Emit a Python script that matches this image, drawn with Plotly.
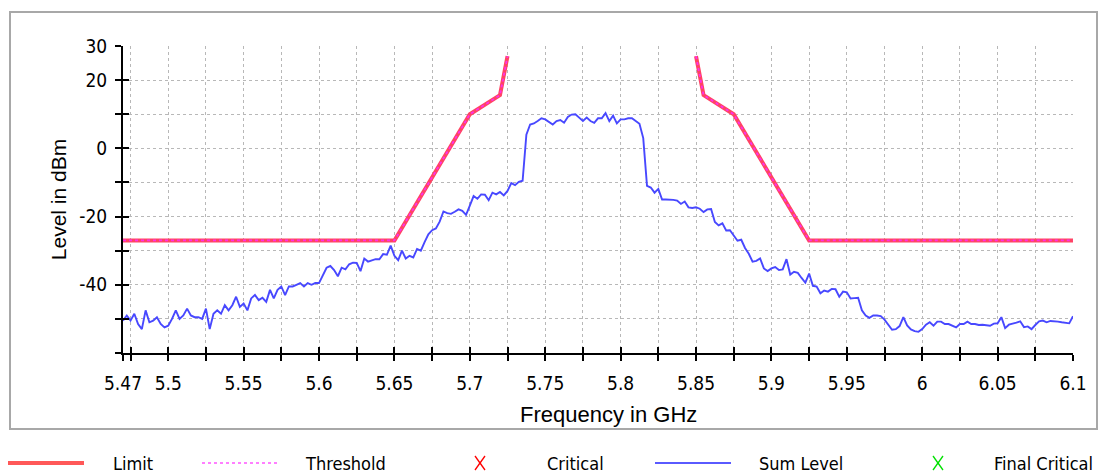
import plotly.graph_objects as go

# ---------------------------------------------------------------------------
# Measured spectrum (Sum Level), frequency in GHz, level in dBm
# ---------------------------------------------------------------------------
freq_ghz = [
    5.4700, 5.4725, 5.4750, 5.4775, 5.4800, 5.4825, 5.4850, 5.4875, 5.4900, 5.4925,
    5.4950, 5.4975, 5.5000, 5.5025, 5.5050, 5.5075, 5.5100, 5.5125, 5.5150, 5.5175,
    5.5200, 5.5225, 5.5250, 5.5275, 5.5300, 5.5325, 5.5350, 5.5375, 5.5400, 5.5425,
    5.5450, 5.5475, 5.5500, 5.5525, 5.5550, 5.5575, 5.5600, 5.5625, 5.5650, 5.5675,
    5.5700, 5.5725, 5.5750, 5.5775, 5.5800, 5.5825, 5.5850, 5.5875, 5.5900, 5.5925,
    5.5950, 5.5975, 5.6000, 5.6025, 5.6050, 5.6075, 5.6100, 5.6125, 5.6150, 5.6175,
    5.6200, 5.6225, 5.6250, 5.6275, 5.6300, 5.6325, 5.6350, 5.6375, 5.6400, 5.6425,
    5.6450, 5.6475, 5.6500, 5.6525, 5.6550, 5.6575, 5.6600, 5.6625, 5.6650, 5.6675,
    5.6700, 5.6725, 5.6750, 5.6775, 5.6800, 5.6825, 5.6850, 5.6875, 5.6900, 5.6925,
    5.6950, 5.6975, 5.7000, 5.7025, 5.7050, 5.7075, 5.7100, 5.7125, 5.7150, 5.7175,
    5.7200, 5.7225, 5.7250, 5.7275, 5.7300, 5.7325, 5.7350, 5.7375, 5.7400, 5.7425,
    5.7450, 5.7475, 5.7500, 5.7525, 5.7550, 5.7575, 5.7600, 5.7625, 5.7650, 5.7675,
    5.7700, 5.7725, 5.7750, 5.7775, 5.7800, 5.7825, 5.7850, 5.7875, 5.7900, 5.7925,
    5.7950, 5.7975, 5.8000, 5.8025, 5.8050, 5.8075, 5.8100, 5.8125, 5.8150, 5.8175,
    5.8200, 5.8225, 5.8250, 5.8275, 5.8300, 5.8325, 5.8350, 5.8375, 5.8400, 5.8425,
    5.8450, 5.8475, 5.8500, 5.8525, 5.8550, 5.8575, 5.8600, 5.8625, 5.8650, 5.8675,
    5.8700, 5.8725, 5.8750, 5.8775, 5.8800, 5.8825, 5.8850, 5.8875, 5.8900, 5.8925,
    5.8950, 5.8975, 5.9000, 5.9025, 5.9050, 5.9075, 5.9100, 5.9125, 5.9150, 5.9175,
    5.9200, 5.9225, 5.9250, 5.9275, 5.9300, 5.9325, 5.9350, 5.9375, 5.9400, 5.9425,
    5.9450, 5.9475, 5.9500, 5.9525, 5.9550, 5.9575, 5.9600, 5.9625, 5.9650, 5.9675,
    5.9700, 5.9725, 5.9750, 5.9775, 5.9800, 5.9825, 5.9850, 5.9875, 5.9900, 5.9925,
    5.9950, 5.9975, 6.0000, 6.0025, 6.0050, 6.0075, 6.0100, 6.0125, 6.0150, 6.0175,
    6.0200, 6.0225, 6.0250, 6.0275, 6.0300, 6.0325, 6.0350, 6.0375, 6.0400, 6.0425,
    6.0450, 6.0475, 6.0500, 6.0525, 6.0550, 6.0575, 6.0600, 6.0625, 6.0650, 6.0675,
    6.0700, 6.0725, 6.0750, 6.0775, 6.0800, 6.0825, 6.0850, 6.0875, 6.0900, 6.0925,
    6.0950, 6.0975, 6.1000,
]

sum_level_dbm = [
    -50.5, -49.0, -50.5, -48.5, -51.5, -53.0, -47.5, -51.0, -50.5, -49.5,
    -51.5, -52.5, -52.0, -50.0, -47.5, -50.0, -49.0, -47.0, -49.0, -49.5,
    -49.5, -50.0, -47.0, -53.0, -48.5, -47.5, -48.5, -46.0, -47.5, -46.0,
    -43.5, -46.5, -45.5, -47.5, -44.0, -43.0, -44.5, -43.8, -45.0, -41.5,
    -44.0, -41.5, -40.5, -43.0, -40.5, -40.5, -40.0, -39.5, -40.5, -39.5,
    -40.0, -39.5, -39.5, -37.0, -35.0, -34.5, -35.7, -37.5, -35.0, -35.5,
    -34.0, -33.5, -33.6, -36.0, -32.3, -33.2, -32.8, -32.5, -32.5, -31.0,
    -31.2, -28.5, -31.5, -32.8, -30.0, -32.3, -31.5, -32.0, -29.5, -30.0,
    -27.5, -25.2, -24.0, -23.5, -21.5, -18.5, -19.0, -19.2, -18.6, -17.9,
    -18.3, -19.5, -16.8, -14.0, -14.8, -13.5, -13.6, -15.2, -13.0, -13.5,
    -12.8, -13.8, -12.5, -10.2, -10.8, -9.8, -9.5, 4.0, 7.0, 7.3,
    8.0, 8.8, 8.5, 7.8, 7.0, 8.0, 8.3, 7.5, 9.2, 9.9,
    10.0, 9.0, 8.0, 9.0, 8.0, 7.5, 8.8, 8.8, 10.3, 8.0,
    9.6, 7.3, 8.5, 8.5, 8.8, 8.8, 8.0, 7.2, 3.0, -11.0,
    -11.5, -13.0, -11.9, -15.0, -15.0, -15.0, -15.1, -15.3, -16.3, -15.6,
    -17.3, -17.5, -17.3, -17.7, -18.7, -17.9, -17.8, -21.6, -22.6, -22.0,
    -24.1, -24.0, -25.5, -27.1, -26.8, -29.2, -30.9, -33.2, -33.0, -32.3,
    -35.2, -36.0, -35.2, -34.8, -35.7, -35.5, -32.5, -37.0, -36.2, -36.5,
    -38.0, -39.4, -36.7, -40.3, -40.5, -42.5, -41.7, -42.0, -41.2, -41.3,
    -43.5, -42.0, -42.2, -44.0, -43.9, -43.8, -47.5, -49.0, -49.7, -49.0,
    -49.0, -49.2, -50.2, -51.8, -53.2, -53.0, -52.1, -49.5, -51.9, -53.1,
    -53.6, -53.8, -53.0, -51.7, -51.0, -52.0, -50.8, -50.8, -51.5, -51.5,
    -52.0, -52.5, -51.5, -51.5, -50.8, -51.5, -51.5, -51.8, -51.7, -51.9,
    -52.0, -51.4, -51.3, -49.5, -52.7, -51.7, -51.5, -51.1, -50.7, -52.4,
    -52.2, -53.0, -51.8, -50.7, -50.5, -51.0, -50.6, -50.6, -50.8, -51.0,
    -51.2, -51.3, -49.2,
]

# Emission mask (limit) - two branches around the allowed band
limit_freq_ghz = [5.47, 5.65, 5.70, 5.72, 5.725, None, 5.85, 5.855, 5.875, 5.925, 6.10]
limit_dbm = [-27, -27, 10, 15.6, 27, None, 27, 15.6, 10, -27, -27]

# Threshold follows the limit mask
threshold_freq_ghz = limit_freq_ghz
threshold_dbm = limit_dbm

# No critical points in this sweep
critical_freq_ghz = []
critical_dbm = []
final_critical_freq_ghz = []
final_critical_dbm = []

# Axis ticks
x_tick_vals = [5.47, 5.475, 5.5, 5.525, 5.55, 5.575, 5.6, 5.625, 5.65, 5.675,
               5.7, 5.725, 5.75, 5.775, 5.8, 5.825, 5.85, 5.875, 5.9, 5.925,
               5.95, 5.975, 6.0, 6.025, 6.05, 6.075, 6.1]
x_tick_text = ["5.47", "", "5.5", "", "5.55", "", "5.6", "", "5.65", "",
               "5.7", "", "5.75", "", "5.8", "", "5.85", "", "5.9", "",
               "5.95", "", "6", "", "6.05", "", "6.1"]
y_tick_vals = [-60, -50, -40, -30, -20, -10, 0, 10, 20, 30]
y_tick_text = ["", "", "-40", "", "-20", "", "0", "", "20", "30"]

x_title = "Frequency in GHz"
y_title = "Level in dBm"
legend_labels = ["Limit", "Threshold", "Critical", "Sum Level", "Final Critical"]

# ---------------------------------------------------------------------------
W, H = 1099, 474
L, R, T, B = 123, 1073, 46, 353  # plot area in pixels


def px_x(px):
    return (px - L) / (R - L)


def px_y(py):
    return (B - py) / (B - T)


narrow = "Liberation Sans Narrow, Arial Narrow, DejaVu Sans Condensed, sans-serif"
tick_font = dict(family=narrow, size=19, color="#000000")
title_family = "Liberation Sans, Arial, sans-serif"

limit_color = "#ff4462"
threshold_color = "#ff30e8"
sum_color = "#4848ff"

fig = go.Figure()

fig.add_trace(go.Scatter(
    x=freq_ghz, y=sum_level_dbm, mode="lines", name="Sum Level",
    line=dict(color=sum_color, width=1.9), showlegend=False,
))
fig.add_trace(go.Scatter(
    x=limit_freq_ghz, y=limit_dbm, mode="lines", name="Limit",
    line=dict(color=limit_color, width=4), connectgaps=False, showlegend=False,
))
fig.add_trace(go.Scatter(
    x=threshold_freq_ghz, y=threshold_dbm, mode="lines", name="Threshold",
    line=dict(color=threshold_color, width=1.8, dash="dot"), connectgaps=False,
    showlegend=False,
))
fig.add_trace(go.Scatter(
    x=critical_freq_ghz, y=critical_dbm, mode="markers", name="Critical",
    marker=dict(symbol="x-thin", color="#ff0000", size=10, line=dict(width=1.5, color="#ff0000")),
    showlegend=False,
))
fig.add_trace(go.Scatter(
    x=final_critical_freq_ghz, y=final_critical_dbm, mode="markers", name="Final Critical",
    marker=dict(symbol="x-thin", color="#00dd00", size=10, line=dict(width=1.5, color="#00dd00")),
    showlegend=False,
))
# empty trace that carries the overlay axes drawing the inner half of the ticks
fig.add_trace(go.Scatter(x=[], y=[], xaxis="x2", yaxis="y2", showlegend=False,
                         hoverinfo="skip"))

common_axis = dict(
    showline=True, linecolor="#000000", linewidth=2,
    ticks="outside", ticklen=6, tickwidth=2, tickcolor="#000000",
    showgrid=True, gridcolor="#b8b8b8", gridwidth=1, griddash="dot",
    zeroline=False, tickfont=tick_font, tickmode="array",
)

fig.update_layout(
    width=W, height=H,
    margin=dict(l=L, r=W - R, t=T, b=H - B, autoexpand=False),
    paper_bgcolor="#ffffff", plot_bgcolor="#ffffff",
    xaxis=dict(
        range=[5.47, 6.1], tickvals=x_tick_vals, ticktext=x_tick_text,
        ticklabelstandoff=6,
        **common_axis,
    ),
    yaxis=dict(
        range=[-60, 30], tickvals=y_tick_vals, ticktext=y_tick_text,
        title=dict(text=y_title, font=dict(family=title_family, size=21, color="#000000"),
                   standoff=7),
        ticklabelstandoff=4,
        **common_axis,
    ),
    xaxis2=dict(
        overlaying="x", anchor="y", side="bottom", range=[5.47, 6.1],
        tickmode="array", tickvals=x_tick_vals, showticklabels=False,
        ticks="inside", ticklen=6, tickwidth=2, tickcolor="#000000",
        showgrid=False, zeroline=False, showline=False,
    ),
    yaxis2=dict(
        overlaying="y", anchor="x", side="left", range=[-60, 30],
        tickmode="array", tickvals=y_tick_vals, showticklabels=False,
        ticks="inside", ticklen=6, tickwidth=2, tickcolor="#000000",
        showgrid=False, zeroline=False, showline=False,
    ),
    hovermode=False,
)

# Outer frame around the chart
shapes = [dict(
    type="rect", xref="paper", yref="paper",
    x0=px_x(10), x1=px_x(1097), y0=px_y(429), y1=px_y(12),
    line=dict(color="#a8a8a8", width=2), fillcolor="rgba(0,0,0,0)", layer="below",
)]

# Frequency axis title, sitting slightly right of the plot centre
annotations = [dict(
    xref="paper", yref="paper", x=px_x(608), y=px_y(414),
    xanchor="center", yanchor="middle", text=x_title, showarrow=False,
    font=dict(family=title_family, size=22, color="#000000"),
)]

# Legend row below the frame: symbol kind, colour, symbol start px, label start px
legend_y = px_y(463)
legend_styles = [
    dict(kind="line", color="#ff5858", width=4, dash="solid", start=8, text=111),
    dict(kind="line", color="#ff55ff", width=1.5, dash="dot", start=202, text=303),
    dict(kind="x", color="#ff0000", start=440, text=545),
    dict(kind="line", color="#5a5aff", width=2, dash="solid", start=655, text=757),
    dict(kind="x", color="#00e000", start=898, text=992),
]
legend_font = dict(family=narrow, size=18, color="#000000")
for label, st in zip(legend_labels, legend_styles):
    s = st["start"]
    if st["kind"] == "line":
        shapes.append(dict(
            type="line", xref="paper", yref="paper",
            x0=px_x(s), x1=px_x(s + 76), y0=legend_y, y1=legend_y,
            line=dict(color=st["color"], width=st["width"], dash=st["dash"]),
        ))
    else:
        cx = s + 40
        for dy in (1, -1):
            shapes.append(dict(
                type="line", xref="paper", yref="paper",
                x0=px_x(cx - 5), x1=px_x(cx + 5),
                y0=px_y(463 - 7 * dy), y1=px_y(463 + 7 * dy),
                line=dict(color=st["color"], width=1.3),
            ))
    annotations.append(dict(
        xref="paper", yref="paper", x=px_x(st["text"]), y=legend_y,
        xanchor="left", yanchor="middle", text=label, showarrow=False,
        font=legend_font,
    ))

fig.update_layout(shapes=shapes, annotations=annotations)

fig.write_html("out.html")
